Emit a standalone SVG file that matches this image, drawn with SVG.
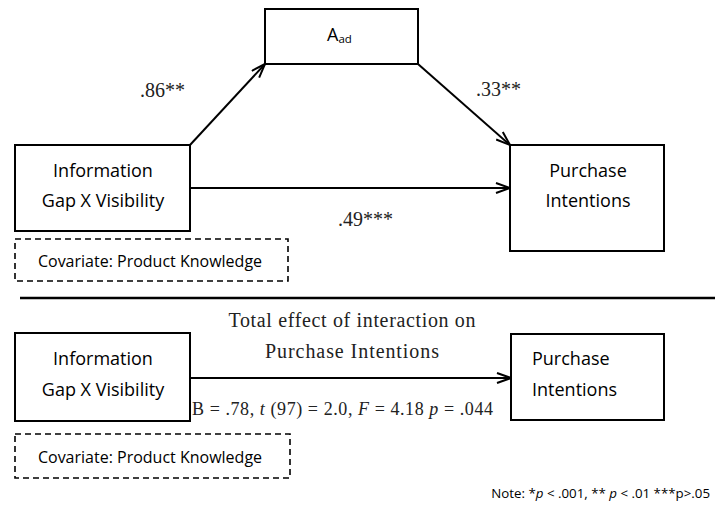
<svg xmlns="http://www.w3.org/2000/svg" width="715" height="506" viewBox="0 0 715 506">
<style>
.box{fill:#fff;stroke:#000;stroke-width:2}
.dash{fill:none;stroke:#000;stroke-width:1.6;stroke-dasharray:6 4}
.sans{font-family:"Open Sans","Noto Sans",sans-serif;fill:#000}
.serif{font-family:"Liberation Serif","Times New Roman",serif;fill:#222}
.ln{stroke:#000;stroke-width:2;fill:none}
</style>
<defs>
<marker id="arr" viewBox="0 0 16 12" refX="15" refY="6" markerWidth="16" markerHeight="12" markerUnits="userSpaceOnUse" orient="auto">
<path d="M1,1 L15,6 L1,11" fill="none" stroke="#000" stroke-width="2"/>
</marker>
</defs>
<rect width="715" height="506" fill="#fff"/>
<g id="connectors">
<line class="ln" x1="190" y1="145" x2="265" y2="64" marker-end="url(#arr)"/>
<line class="ln" x1="418" y1="64" x2="510" y2="145" marker-end="url(#arr)"/>
<line class="ln" x1="190" y1="188" x2="510" y2="188" marker-end="url(#arr)"/>
<line class="ln" x1="190" y1="378" x2="511" y2="378" marker-end="url(#arr)"/>
</g>
<g id="aad">
<rect class="box" x="265" y="9" width="153" height="55"/>
<text class="sans" x="327" y="41" font-size="18">A<tspan font-size="11.5" dy="2">ad</tspan></text>
</g>
<g id="info-top">
<rect class="box" x="15" y="145" width="175" height="86"/>
<text class="sans" x="103" y="177" font-size="18" text-anchor="middle">Information</text>
<text class="sans" x="103" y="207" font-size="18" text-anchor="middle">Gap X Visibility</text>
</g>
<g id="purchase-top">
<rect class="box" x="510" y="145" width="154" height="106"/>
<text class="sans" x="588" y="177" font-size="18" text-anchor="middle">Purchase</text>
<text class="sans" x="588" y="207" font-size="18" text-anchor="middle">Intentions</text>
</g>
<g id="covariate-top">
<rect class="dash" x="15" y="239" width="273" height="42"/>
<text class="sans" x="150" y="267" font-size="16" text-anchor="middle">Covariate: Product Knowledge</text>
</g>
<g id="labels-top">
<text class="serif" x="140" y="97" font-size="20">.86**</text>
<text class="serif" x="476" y="96" font-size="20">.33**</text>
<text class="serif" x="338" y="226" font-size="20">.49***</text>
</g>
<line x1="20" y1="298" x2="715" y2="298" stroke="#000" stroke-width="2.5"/>
<g id="info-bottom">
<rect class="box" x="15" y="333" width="175" height="88"/>
<text class="sans" x="103" y="365" font-size="18" text-anchor="middle">Information</text>
<text class="sans" x="103" y="396" font-size="18" text-anchor="middle">Gap X Visibility</text>
</g>
<g id="purchase-bottom">
<rect class="box" x="511" y="334" width="153" height="86"/>
<text class="sans" x="532" y="365" font-size="18">Purchase</text>
<text class="sans" x="532" y="396" font-size="18">Intentions</text>
</g>
<g id="covariate-bottom">
<rect class="dash" x="15" y="434" width="275" height="44"/>
<text class="sans" x="150" y="463" font-size="16" text-anchor="middle">Covariate: Product Knowledge</text>
</g>
<g id="labels-bottom">
<text class="serif" x="352" y="327" font-size="20" text-anchor="middle" textLength="247" lengthAdjust="spacing">Total effect of interaction on</text>
<text class="serif" x="352" y="358" font-size="20" text-anchor="middle" textLength="174" lengthAdjust="spacing">Purchase Intentions</text>
<text class="serif" x="192" y="415" font-size="18" textLength="301" lengthAdjust="spacing">B = .78, <tspan font-style="italic">t</tspan> (97) = 2.0, <tspan font-style="italic">F</tspan> = 4.18 <tspan font-style="italic">p</tspan> = .044</text>
</g>
<text class="sans" x="710" y="498" font-size="13.3" text-anchor="end">Note: *<tspan font-style="italic">p</tspan> &lt; .001, ** <tspan font-style="italic">p</tspan> &lt; .01 ***p&gt;.05</text>
</svg>
